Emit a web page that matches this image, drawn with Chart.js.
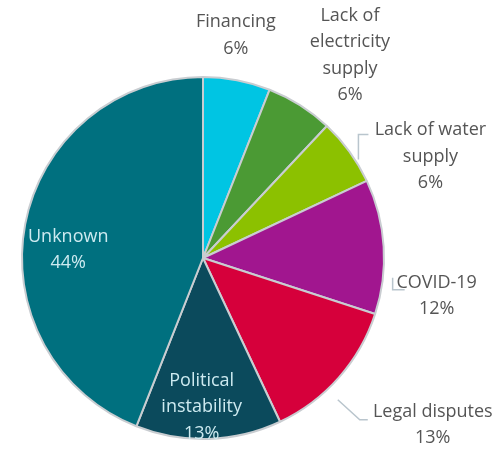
<!DOCTYPE html>
<html lang="en">
<head>
    <meta charset="UTF-8" />
    <title>Causes pie</title>
    <script src="https://cdn.jsdelivr.net/npm/chart.js"></script>
    <style>
        html, body { margin: 0; padding: 0; background: #ffffff; }
        #wrap { width: 503px; height: 452px; }
    </style>
</head>
<body>
<div id="wrap"><canvas id="pie" width="503" height="452"></canvas></div>

<script>
    const categories = [
        ['Financing'],
        ['Lack of', 'electricity', 'supply'],
        ['Lack of water', 'supply'],
        ['COVID-19'],
        ['Legal disputes'],
        ['Political', 'instability'],
        ['Unknown']
    ];
    const shares = [6, 6, 6, 12, 13, 13, 44];
    const colors = ['#00c5e3', '#4b9a34', '#8cc100', '#a1168f', '#d6003b', '#0b4a5c', '#00707f'];

    // label placement: offset from the arc's outer edge at mid-angle
    const labelLayout = [
        { dx: -1, dy: -45, inside: false },
        { dx: 50, dy: -50, inside: false },
        { dx: 81, dy: 5, inside: false, leader: [[-72, 3], [-72, -22], [-62, -22]] },
        { dx: 53, dy: 49, inside: false, leader: [[-44, -18], [-44, -6], [-32, -6]] },
        { dx: 94, dy: 47, inside: false, leader: [[-95, -25], [-73, -5], [-65, -5]] },
        { dx: -7, dy: -32, inside: true },
        { dx: 43, dy: 26, inside: true }
    ];

    const labelPlugin = {
        id: 'sliceLabels',
        afterDatasetsDraw(chart) {
            const ctx = chart.ctx;
            const arcs = chart.getDatasetMeta(0).data;
            ctx.save();
            ctx.font = '18px "Open Sans", sans-serif';
            ctx.textAlign = 'center';
            ctx.textBaseline = 'middle';
            arcs.forEach((arc, i) => {
                const p = arc.getProps(['x', 'y', 'startAngle', 'endAngle', 'outerRadius'], true);
                const mid = (p.startAngle + p.endAngle) / 2;
                const ex = p.x + Math.cos(mid) * p.outerRadius;
                const ey = p.y + Math.sin(mid) * p.outerRadius;
                const lay = labelLayout[i];
                const cx = ex + lay.dx;
                const cy = ey + lay.dy;
                if (lay.leader) {
                    ctx.strokeStyle = '#b9c5cd';
                    ctx.lineWidth = 1.5;
                    ctx.beginPath();
                    lay.leader.forEach((pt, k) => {
                        if (k === 0) ctx.moveTo(cx + pt[0], cy + pt[1]);
                        else ctx.lineTo(cx + pt[0], cy + pt[1]);
                    });
                    ctx.stroke();
                }
                const lines = categories[i].concat([shares[i] + '%']);
                const lh = 26.5;
                const top = cy - (lines.length - 1) * lh / 2;
                ctx.fillStyle = lay.inside ? '#cdeaf0' : '#555555';
                lines.forEach((t, k) => ctx.fillText(t, cx, top + k * lh));
            });
            ctx.restore();
        }
    };

    new Chart(document.getElementById('pie'), {
        type: 'pie',
        data: {
            labels: categories.map(c => c.join(' ')),
            datasets: [{
                data: shares,
                backgroundColor: colors,
                borderColor: '#c9cdd1',
                borderWidth: 2
            }]
        },
        options: {
            responsive: false,
            animation: false,
            layout: { padding: { left: 21, right: 118, top: 76, bottom: 12 } },
            plugins: {
                legend: { display: false },
                tooltip: { enabled: false }
            }
        },
        plugins: [labelPlugin]
    });
</script>
</body>
</html>
